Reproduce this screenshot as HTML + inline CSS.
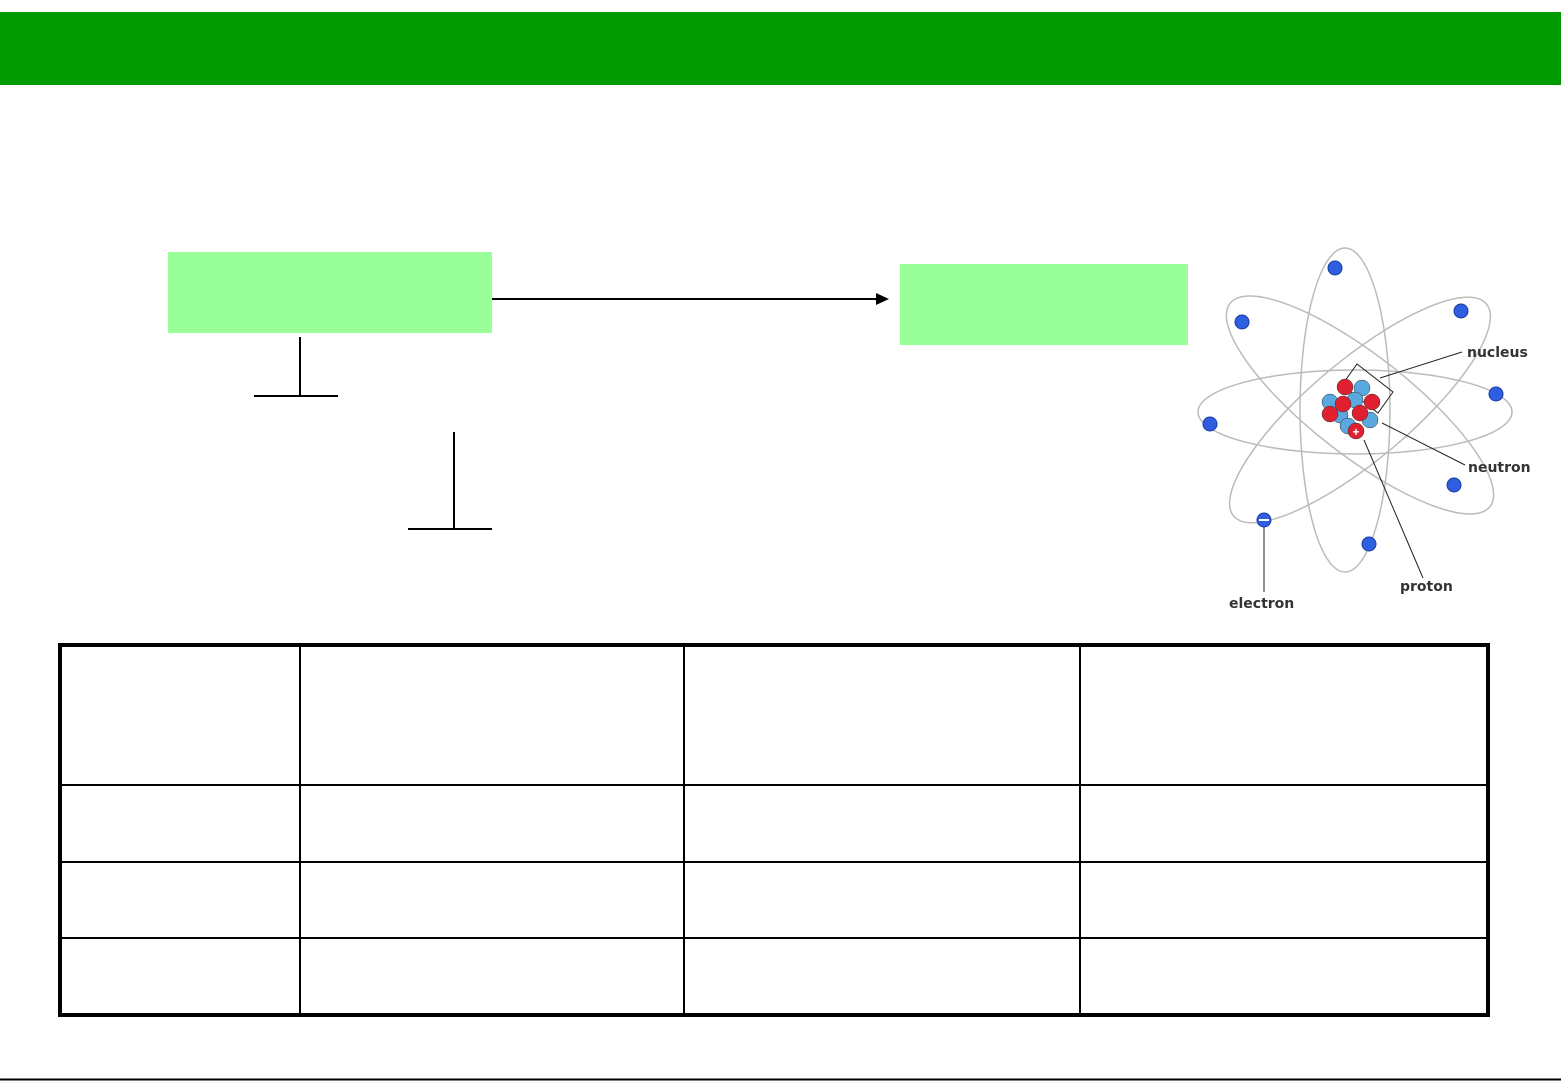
<!DOCTYPE html>
<html><head><style>
body{margin:0;width:1561px;height:1081px;background:#fff;position:relative;overflow:hidden;font-family:"Liberation Sans",sans-serif}
.a{position:absolute}
</style></head><body>
<div class="a" style="left:0;top:12px;width:1561px;height:73px;background:#009900"></div>
<div class="a" style="left:168px;top:252px;width:324px;height:81px;background:#99ff99"></div>
<div class="a" style="left:900px;top:264px;width:288px;height:81px;background:#99ff99"></div>
<svg class="a" style="left:0;top:0" width="1561" height="1081">
<line x1="492" y1="299" x2="878" y2="299" stroke="#000" stroke-width="2"/>
<polygon points="889,299 876,293 876,305" fill="#000"/>
<line x1="300" y1="337" x2="300" y2="396" stroke="#000" stroke-width="2"/>
<line x1="254" y1="396" x2="338" y2="396" stroke="#000" stroke-width="2"/>
<line x1="454" y1="432" x2="454" y2="529" stroke="#000" stroke-width="2"/>
<line x1="408" y1="529" x2="492" y2="529" stroke="#000" stroke-width="2"/>
<line x1="0" y1="1079.5" x2="1561" y2="1079.5" stroke="#000" stroke-width="2"/>
<!-- table -->
<rect x="60" y="645" width="1428" height="370" fill="none" stroke="#000" stroke-width="4"/>
<g stroke="#000" stroke-width="2">
<line x1="300" y1="645" x2="300" y2="1015"/><line x1="684" y1="645" x2="684" y2="1015"/><line x1="1080" y1="645" x2="1080" y2="1015"/>
<line x1="60" y1="785" x2="1488" y2="785"/><line x1="60" y1="862" x2="1488" y2="862"/><line x1="60" y1="938" x2="1488" y2="938"/>
</g>
<!-- atom -->
<g fill="none" stroke="#bbb" stroke-width="1.5">
<ellipse cx="1355" cy="412" rx="157" ry="42"/>
<ellipse cx="1345" cy="410" rx="45" ry="162"/>
<ellipse cx="1360" cy="405" rx="165" ry="50" transform="rotate(38 1360 405)"/>
<ellipse cx="1360" cy="410" rx="165" ry="50" transform="rotate(-40 1360 410)"/>
</g>
<g fill="#2f5fe0" stroke="#1a3aa0" stroke-width="1">
<circle cx="1335" cy="268" r="7"/><circle cx="1242" cy="322" r="7"/><circle cx="1461" cy="311" r="7"/>
<circle cx="1496" cy="394" r="7"/><circle cx="1210" cy="424" r="7"/><circle cx="1454" cy="485" r="7"/>
<circle cx="1369" cy="544" r="7"/><circle cx="1264" cy="520" r="7"/>
</g>
<line x1="1259" y1="520" x2="1269" y2="520" stroke="#fff" stroke-width="2"/>
<g stroke="#222" stroke-width="1" fill="none">
<polygon points="1342,385 1357,364 1393,392 1378,413"/>
<line x1="1380" y1="378" x2="1462" y2="352"/>
<line x1="1382" y1="423" x2="1465" y2="465"/>
<line x1="1364" y1="440" x2="1423" y2="578"/>
<line x1="1264" y1="527" x2="1264" y2="592"/>
</g>
<g stroke="#333" stroke-width=".5">
<circle cx="1340" cy="415" r="8" fill="#5aa8e0"/><circle cx="1362" cy="388" r="8" fill="#5aa8e0"/>
<circle cx="1355" cy="400" r="8" fill="#5aa8e0"/><circle cx="1370" cy="420" r="8" fill="#5aa8e0"/>
<circle cx="1348" cy="426" r="8" fill="#5aa8e0"/><circle cx="1330" cy="402" r="8" fill="#5aa8e0"/>
<circle cx="1345" cy="387" r="8" fill="#e02030"/><circle cx="1343" cy="404" r="8" fill="#e02030"/>
<circle cx="1372" cy="402" r="8" fill="#e02030"/><circle cx="1330" cy="414" r="8" fill="#e02030"/>
<circle cx="1360" cy="413" r="8" fill="#e02030"/><circle cx="1356" cy="431" r="8" fill="#e02030"/>
</g>
<text x="1356" y="436" font-size="12" fill="#fff" text-anchor="middle" font-weight="bold">+</text>
<g font-family="DejaVu Sans, sans-serif" font-weight="bold" font-size="14" fill="#333">
<text x="1467" y="357">nucleus</text><text x="1468" y="472">neutron</text>
<text x="1400" y="591">proton</text><text x="1229" y="608">electron</text>
</g>
</svg>
</body></html>
